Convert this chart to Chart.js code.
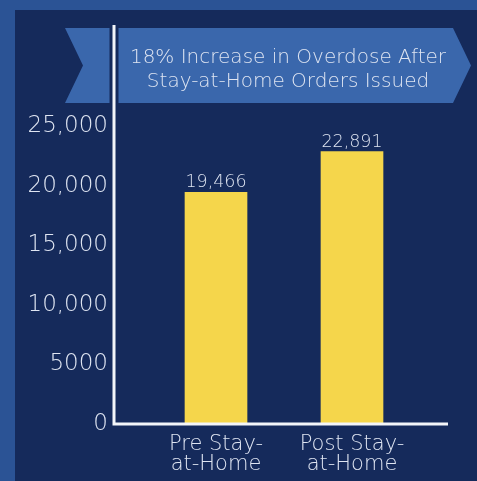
<!DOCTYPE html>
<html>
<head>
<meta charset="utf-8">
<script src="https://cdn.jsdelivr.net/npm/chart.js@4"></script>
<style>
  html, body { margin: 0; padding: 0; }
  body { width: 477px; height: 481px; background: #2b5395; position: relative; overflow: hidden; }
  #wrap { position: absolute; left: 15px; top: 10px; width: 462px; height: 471px; background: #152a5b; }
</style>
</head>
<body>
<div id="wrap"><canvas id="myChart" width="462" height="471"></canvas></div>
<script>
const categories = [['Pre Stay-', 'at-Home'], ['Post Stay-', 'at-Home']];
const overdoses = [19466, 22891];
const yTickValues = [0, 5000, 10000, 15000, 20000, 25000];
const yTickLabels = ['0', '5000', '10,000', '15,000', '20,000', '25,000'];
const bannerLines = ['18% Increase in Overdose After', 'Stay-at-Home Orders Issued'];

const FONT = '"DejaVu Sans", sans-serif';
const TEXT = '#dfe5f2';

// banner, axis lines and value labels
const decorations = {
    id: 'decorations',
    beforeDatasetsDraw(chart) {
        const ctx = chart.ctx;
        ctx.save();
        ctx.fillStyle = '#3a67ac';
        ctx.beginPath();
        ctx.moveTo(50, 18);
        ctx.lineTo(438, 18);
        ctx.lineTo(456, 55.5);
        ctx.lineTo(438, 93);
        ctx.lineTo(50, 93);
        ctx.lineTo(68, 55.5);
        ctx.closePath();
        ctx.fill();

        ctx.fillStyle = TEXT;
        ctx.font = '200 20px ' + FONT;
        ctx.textAlign = 'center';
        ctx.textBaseline = 'middle';
        ctx.fillText(bannerLines[0], 273, 48);
        ctx.fillText(bannerLines[1], 273, 72);
        ctx.restore();
    },
    afterDatasetsDraw(chart) {
        const { ctx, chartArea } = chart;
        const ax = chartArea.left - 34;
        const ay = chartArea.bottom;
        ctx.save();
        // dark gap round the axis where it crosses the banner
        ctx.strokeStyle = '#152a5b';
        ctx.lineWidth = 9;
        ctx.beginPath();
        ctx.moveTo(ax, 18);
        ctx.lineTo(ax, 93);
        ctx.stroke();

        ctx.strokeStyle = '#f3f5f9';
        ctx.lineWidth = 3;
        ctx.beginPath();
        ctx.moveTo(ax, 15);
        ctx.lineTo(ax, ay);
        ctx.lineTo(chartArea.right + 28, ay);
        ctx.stroke();

        // value labels above the bars
        ctx.fillStyle = TEXT;
        ctx.font = '200 17.5px ' + FONT;
        ctx.textAlign = 'center';
        ctx.textBaseline = 'alphabetic';
        chart.getDatasetMeta(0).data.forEach((bar, i) => {
            ctx.fillText(overdoses[i].toLocaleString('en-US'), bar.x, bar.y - 5);
        });
        ctx.restore();
    }
};

const ctx = document.getElementById('myChart').getContext('2d');
const chart = new Chart(ctx, {
    type: 'bar',
    data: {
        labels: categories,
        datasets: [{
            data: overdoses,
            backgroundColor: '#f5d64b',
            borderWidth: 0,
            barThickness: 62
        }]
    },
    options: {
        responsive: false,
        animation: false,
        layout: { padding: { top: 57, right: 57, left: 0, bottom: 0 } },
        plugins: {
            legend: { display: false },
            tooltip: { enabled: false }
        },
        scales: {
            x: {
                grid: { display: false, drawTicks: false },
                border: { display: false },
                ticks: {
                    color: TEXT,
                    padding: 10,
                    font: { family: FONT, size: 21, weight: 200, lineHeight: 0.96 }
                },
                afterFit(scale) { scale.height = 57; }
            },
            y: {
                min: 0,
                max: 30000,
                grid: { display: false, drawTicks: false },
                border: { display: false },
                afterBuildTicks(scale) {
                    scale.ticks = yTickValues.map(v => ({ value: v }));
                },
                ticks: {
                    color: TEXT,
                    padding: 40,
                    font: { family: FONT, size: 23, weight: 200 },
                    callback: (value) => yTickLabels[yTickValues.indexOf(value)]
                },
                afterFit(scale) { scale.width = 133; }
            }
        }
    },
    plugins: [decorations]
});
</script>
</body>
</html>
